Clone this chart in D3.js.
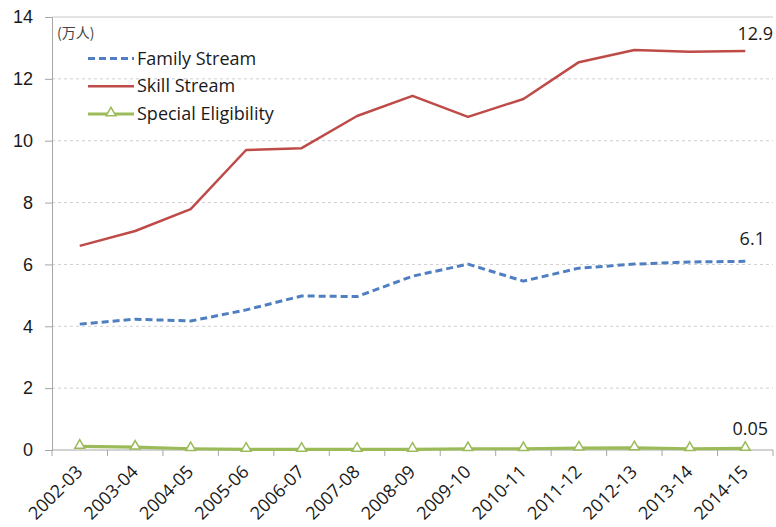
<!DOCTYPE html>
<html>
<head>
<meta charset="utf-8">
<script src="https://cdn.jsdelivr.net/npm/d3@7"></script>
<style>
  body { margin: 0; background: #fff; }
  svg { display: block; font-family: "Open Sans", "Noto Sans", sans-serif; }
</style>
</head>
<body>
<svg id="chart" width="776" height="527"></svg>
<script>
// Fiscal years on the x axis
const years = ["2002-03","2003-04","2004-05","2005-06","2006-07","2007-08","2008-09",
               "2009-10","2010-11","2011-12","2012-13","2013-14","2014-15"];

// Admissions, in units of 10,000 people
const familyStream = [4.07, 4.23, 4.17, 4.53, 4.98, 4.96, 5.62, 6.01, 5.46, 5.88, 6.01, 6.08, 6.1];
const skillStream  = [6.6, 7.08, 7.79, 9.7, 9.76, 10.8, 11.45, 10.77, 11.35, 12.54, 12.93, 12.88, 12.9];
const specialElig  = [0.12, 0.09, 0.04, 0.02, 0.02, 0.02, 0.02, 0.04, 0.04, 0.06, 0.07, 0.04, 0.05];

const yTicks = [0, 2, 4, 6, 8, 10, 12, 14];
const unitLabel = "(万人)";

const series = [
  { name: "Family Stream", values: familyStream, color: "#4f7fc0", width: 3, dash: "7,4", marker: false,
    endLabel: "6.1", ldx: 7, ldy: -16 },
  { name: "Skill Stream", values: skillStream, color: "#be4b48", width: 2.5, dash: null, marker: false,
    endLabel: "12.9", ldx: 10, ldy: -11 },
  { name: "Special Eligibility", values: specialElig, color: "#9bbb59", width: 3.2, dash: null, marker: true,
    endLabel: "0.05", ldx: 5, ldy: -13 }
];

const svg = d3.select("#chart");
const margin = { left: 52, right: 3, top: 17, bottom: 77 };
const W = 776, H = 527;

const x = d3.scaleBand().domain(years).range([margin.left, W - margin.right]);
const y = d3.scaleLinear().domain([0, 14]).range([H - margin.bottom, margin.top]);
const cx = d => x(d) + x.bandwidth() / 2;

// Horizontal gridlines (top one solid, rest dashed)
svg.append("g").selectAll("line")
  .data(yTicks.filter(t => t > 0))
  .join("line")
  .attr("x1", margin.left).attr("x2", W - margin.right)
  .attr("y1", d => y(d)).attr("y2", d => y(d))
  .attr("stroke", d => d === 14 ? "#c8c8c8" : "#cfcfcf")
  .attr("stroke-width", 1)
  .attr("stroke-dasharray", d => d === 14 ? null : "3,3");

// Y axis
const yAxis = svg.append("g")
  .attr("transform", `translate(${margin.left},0)`)
  .call(d3.axisLeft(y).tickValues(yTicks).tickSize(7).tickPadding(12).tickFormat(d3.format("d")));
yAxis.select(".domain").attr("stroke", "#a6a6a6");
yAxis.selectAll(".tick line").attr("stroke", "#a6a6a6");
yAxis.selectAll("text").attr("font-size", 18).attr("fill", "#1a1a1a");

// X axis with ticks between categories
const xAxis = svg.append("g")
  .attr("transform", `translate(0,${y(0)})`);
xAxis.append("line")
  .attr("x1", margin.left).attr("x2", W - margin.right)
  .attr("stroke", "#a6a6a6");
xAxis.selectAll("line.tk")
  .data(years.concat(["end"]))
  .join("line").attr("class", "tk")
  .attr("x1", (d, i) => margin.left + i * x.step())
  .attr("x2", (d, i) => margin.left + i * x.step())
  .attr("y1", 0).attr("y2", 6)
  .attr("stroke", "#a6a6a6");
xAxis.selectAll("text")
  .data(years)
  .join("text")
  .attr("transform", d => `translate(${cx(d) + 4},${23}) rotate(-45)`)
  .attr("text-anchor", "end")
  .attr("font-size", 18)
  .attr("fill", "#1a1a1a")
  .text(d => d);

// Series lines
const line = d3.line().x((d, i) => cx(years[i])).y(d => y(d));
series.forEach(s => {
  svg.append("path")
    .datum(s.values)
    .attr("d", line)
    .attr("fill", "none")
    .attr("stroke", s.color)
    .attr("stroke-width", s.width)
    .attr("stroke-dasharray", s.dash)
    .attr("stroke-linejoin", "round");
  if (s.marker) {
    svg.append("g").selectAll("path")
      .data(s.values)
      .join("path")
      .attr("transform", (d, i) => `translate(${cx(years[i])},${y(d) - 1})`)
      .attr("d", d3.symbol(d3.symbolTriangle, 42))
      .attr("fill", "#fff")
      .attr("stroke", s.color)
      .attr("stroke-width", 1.5);
  }
  const last = s.values.length - 1;
  svg.append("text")
    .attr("x", cx(years[last]) + s.ldx)
    .attr("y", y(s.values[last]) + s.ldy)
    .attr("text-anchor", "middle")
    .attr("font-size", 18)
    .attr("fill", "#1a1a1a")
    .text(s.endLabel);
});

// Unit label
svg.append("text")
  .attr("x", 57).attr("y", 38)
  .attr("font-size", 14)
  .attr("fill", "#444")
  .attr("font-family", "'Noto Sans CJK SC', sans-serif")
  .text(unitLabel);

// Legend
const legend = svg.append("g").attr("transform", "translate(88,58.5)");
series.forEach((s, i) => {
  const g = legend.append("g").attr("transform", `translate(0,${i * 27.75})`);
  g.append("line")
    .attr("x1", 0).attr("x2", 46)
    .attr("stroke", s.color)
    .attr("stroke-width", s.width)
    .attr("stroke-dasharray", s.dash);
  if (s.marker) {
    g.append("path")
      .attr("transform", "translate(23,-1)")
      .attr("d", d3.symbol(d3.symbolTriangle, 42))
      .attr("fill", "#fff")
      .attr("stroke", s.color)
      .attr("stroke-width", 1.5);
  }
  g.append("text")
    .attr("x", 49).attr("y", 6)
    .attr("font-size", 18)
    .attr("fill", "#1a1a1a")
    .text(s.name);
});
</script>
</body>
</html>
